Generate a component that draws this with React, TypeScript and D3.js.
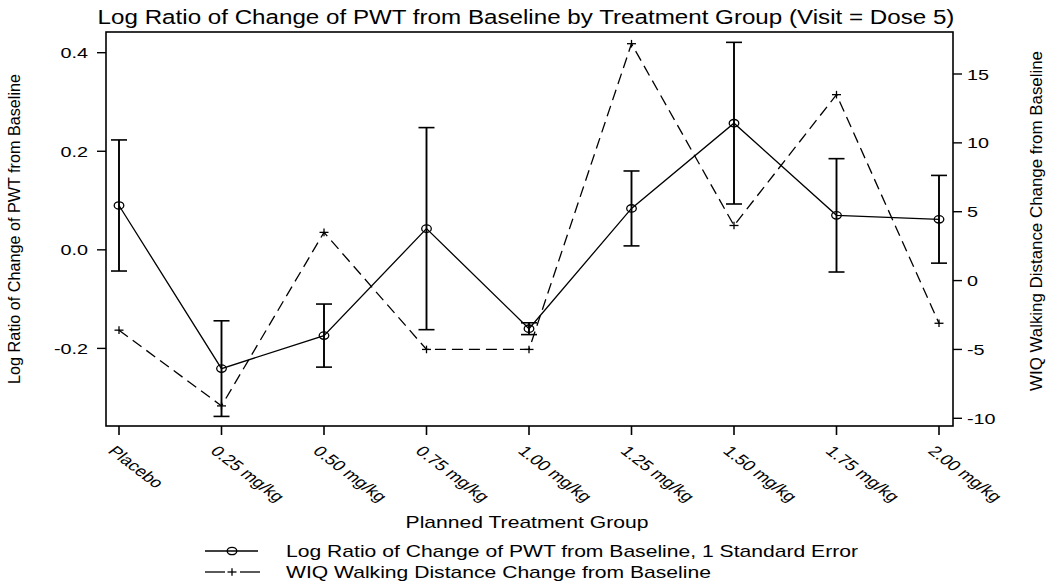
import React from 'react';
import * as d3 from 'd3';

const groups = ['Placebo', '0.25 mg/kg', '0.50 mg/kg', '0.75 mg/kg', '1.00 mg/kg', '1.25 mg/kg', '1.50 mg/kg', '1.75 mg/kg', '2.00 mg/kg'];
const logRatio = [0.090, -0.241, -0.174, 0.043, -0.160, 0.084, 0.257, 0.070, 0.062];
const logRatioSE = [0.133, 0.097, 0.064, 0.205, 0.012, 0.076, 0.164, 0.115, 0.089];
const wiqChange = [-3.6, -9.1, 3.5, -5.0, -5.0, 17.2, 4.0, 13.5, -3.1];
const leftTicks = [-0.2, 0.0, 0.2, 0.4];
const rightTicks = [-10, -5, 0, 5, 10, 15];

const titleText = 'Log Ratio of Change of PWT from Baseline by Treatment Group (Visit = Dose 5)';
const leftLabel = 'Log Ratio of Change of PWT from Baseline';
const rightLabel = 'WIQ Walking Distance Change from Baseline';
const xLabel = 'Planned Treatment Group';
const legend1 = 'Log Ratio of Change of PWT from Baseline, 1 Standard Error';
const legend2 = 'WIQ Walking Distance Change from Baseline';

const SX = 1.32;
const FONT = '"Liberation Sans", Arial, Helvetica, sans-serif';

const frame = { left: 106, right: 953, top: 32, bottom: 426 };

function SText(props: any) {
  const { x, y, size, anchor = 'start', rotate = 0, sx = SX, children, textLength } = props;
  return (
    <text
      transform={`translate(${x},${y}) scale(${sx},1) rotate(${rotate})`}
      fontSize={size}
      textAnchor={anchor}
      fontFamily={FONT}
      fill="#000"
      textLength={textLength}
      lengthAdjust={textLength ? 'spacingAndGlyphs' : undefined}
    >
      {children}
    </text>
  );
}

const CircleMark = ({ cx, cy }: any) => (
  <ellipse cx={cx} cy={cy} rx={4.8} ry={3.7} fill="none" stroke="#000" strokeWidth={1.3} />
);
const PlusMark = ({ cx, cy }: any) => (
  <g stroke="#000" strokeWidth={1.3}>
    <line x1={cx - 4.5} x2={cx + 4.5} y1={cy} y2={cy} />
    <line x1={cx} x2={cx} y1={cy - 3.8} y2={cy + 3.8} />
  </g>
);

export default function App() {
  const x = d3.scalePoint<string>().domain(groups).range([119, 939]);
  const yL = d3.scaleLinear().domain([-0.2, 0.4]).range([348.4, 52.7]);
  const yR = d3.scaleLinear().domain([-10, 15]).range([418.3, 74]);

  const solid = d3.line<number>().x((_, i) => x(groups[i])!).y((d) => yL(d));
  const dashed = d3.line<number>().x((_, i) => x(groups[i])!).y((d) => yR(d));
  const capW = 8;

  return (
    <svg width={1050} height={586} style={{ position: 'absolute', left: 0, top: 0, background: '#fff' }}>
      <rect x={0} y={0} width={1050} height={586} fill="#fff" />
      <SText x={526} y={24} size={19.5} sx={1.24} anchor="middle">{titleText}</SText>

      {/* frame */}
      <rect x={frame.left} y={frame.top} width={frame.right - frame.left} height={frame.bottom - frame.top}
        fill="none" stroke="#000" strokeWidth={1.6} />

      {/* left axis */}
      {leftTicks.map((t) => (
        <g key={'l' + t}>
          <line x1={frame.left - 9} x2={frame.left} y1={yL(t)} y2={yL(t)} stroke="#000" strokeWidth={1.4} />
          <SText x={88} y={yL(t) + 5.5} size={15} anchor="end">{t.toFixed(1)}</SText>
        </g>
      ))}
      {/* right axis */}
      {rightTicks.map((t) => (
        <g key={'r' + t}>
          <line x1={frame.right} x2={frame.right + 9} y1={yR(t)} y2={yR(t)} stroke="#000" strokeWidth={1.4} />
          <SText x={967} y={yR(t) + 5.5} size={15} anchor="start">{String(t)}</SText>
        </g>
      ))}
      {/* x axis */}
      {groups.map((g) => (
        <g key={'x' + g}>
          <line x1={x(g)} x2={x(g)} y1={frame.bottom} y2={frame.bottom + 9} stroke="#000" strokeWidth={1.6} />
          <SText x={x(g)! - 12} y={452} size={14.5} rotate={45}>{g}</SText>
        </g>
      ))}

      {/* axis labels */}
      <text transform="translate(20,229) rotate(-90)" fontSize={16.5} textAnchor="middle" fontFamily={FONT}
        textLength={310} lengthAdjust="spacingAndGlyphs">{leftLabel}</text>
      <text transform="translate(1042,221) rotate(-90)" fontSize={17} textAnchor="middle" fontFamily={FONT}
        textLength={340} lengthAdjust="spacingAndGlyphs">{rightLabel}</text>
      <SText x={527} y={528} size={16} anchor="middle">{xLabel}</SText>

      {/* dashed WIQ line */}
      <path d={dashed(wiqChange)!} fill="none" stroke="#000" strokeWidth={1.3} strokeDasharray="11 6" />
      {wiqChange.map((v, i) => (
        <PlusMark key={'p' + i} cx={x(groups[i])} cy={yR(v)} />
      ))}

      {/* error bars */}
      {logRatio.map((v, i) => {
        const cx = x(groups[i])!;
        const hi = yL(v + logRatioSE[i]);
        const lo = yL(v - logRatioSE[i]);
        return (
          <g key={'e' + i} stroke="#000">
            <line x1={cx} x2={cx} y1={hi} y2={lo} strokeWidth={1.9} />
            <line x1={cx - capW} x2={cx + capW} y1={hi} y2={hi} strokeWidth={1.6} />
            <line x1={cx - capW} x2={cx + capW} y1={lo} y2={lo} strokeWidth={1.6} />
          </g>
        );
      })}
      <path d={solid(logRatio)!} fill="none" stroke="#000" strokeWidth={1.3} />
      {logRatio.map((v, i) => (
        <CircleMark key={'c' + i} cx={x(groups[i])} cy={yL(v)} />
      ))}

      {/* legend */}
      <line x1={205} x2={258} y1={551} y2={551} stroke="#000" strokeWidth={1.3} />
      <CircleMark cx={232} cy={551} />
      <SText x={286} y={557} size={16}>{legend1}</SText>
      <line x1={205} x2={225} y1={572} y2={572} stroke="#000" strokeWidth={1.3} />
      <line x1={240} x2={260} y1={572} y2={572} stroke="#000" strokeWidth={1.3} />
      <PlusMark cx={232} cy={572} />
      <SText x={286} y={578} size={16}>{legend2}</SText>
    </svg>
  );
}
